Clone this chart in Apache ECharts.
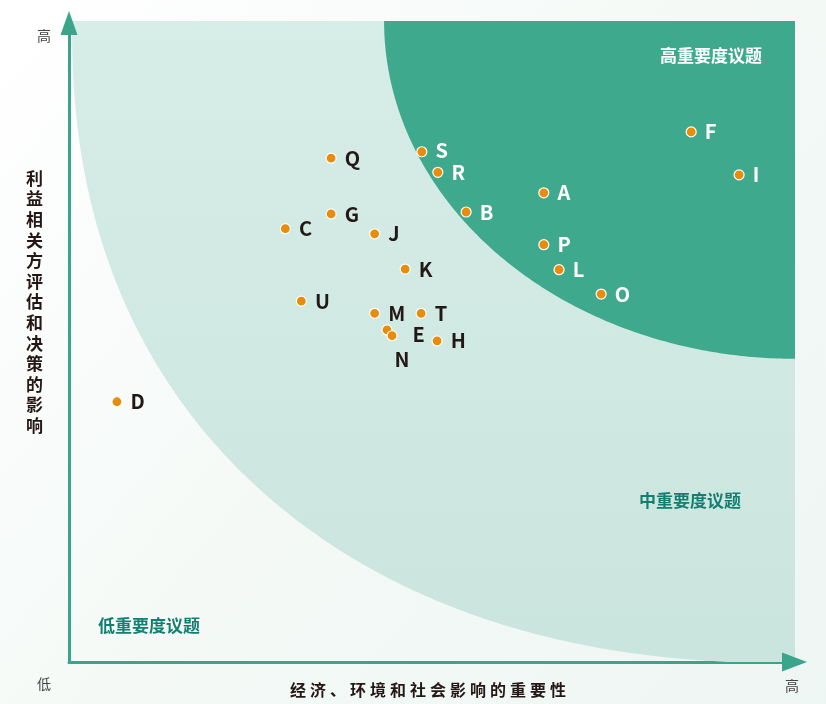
<!DOCTYPE html>
<html>
<head>
<meta charset="utf-8">
<script src="https://cdn.jsdelivr.net/npm/echarts@6/dist/echarts.min.js"></script>
<style>
html,body{margin:0;padding:0;background:#f6faf8;}
#chart{width:826px;height:704px;}
</style>
</head>
<body>
<div id="chart"></div>
<script>
// ---- data ----
const issueNames = ['A','B','C','D','E','F','G','H','I','J','K','L','M','N','O','P','Q','R','S','T','U'];
const impactX    = [65.4,54.7,29.8,6.6,43.8,85.7,36.1,50.7,92.3,42.1,46.3,67.5,42.1,44.5,73.3,65.4,36.1,50.8,48.6,48.5,32.0];
const influenceY = [73.2,70.2,67.6,40.6,51.8,82.7,69.9,50.1,76.0,66.8,61.3,61.2,54.4,50.9,57.4,65.1,78.6,76.4,79.6,54.4,56.3];
const zoneNames  = ['高重要度议题','中重要度议题','低重要度议题'];
const axisLow = '低', axisHigh = '高';
const xTitle = '经济、环境和社会影响的重要性';
const yTitle = '利益相关方评估和决策的影响';
// zone boundaries: quarter (super)ellipses centred at the top-right corner (data units)
const mediumZoneRadii = [99.6, 100.2];
const mediumZoneExponent = 2.25;
const highZoneRadii   = [56.6, 52.7];
const highZoneExponent = 2;

const FONT = '"Noto Sans CJK SC","Noto Sans",sans-serif';
const AXIS_COLOR = '#3aa58a';
const chart = echarts.init(document.getElementById('chart'), null, {renderer:'canvas'});

function inHigh(x, y){
  const a = (100-x)/highZoneRadii[0], b = (100-y)/highZoneRadii[1];
  return a*a + b*b < 1;
}
function zonePoints(api, r, n){
  const pts = [];
  for (let i = 0; i <= 180; i++){
    const t = i*Math.PI/360;
    const c = Math.pow(Math.cos(t), 2/n), s = Math.pow(Math.sin(t), 2/n);
    const x = 100 - r[0]*c;
    const y = Math.max(0, 100 - r[1]*s);
    pts.push(api.coord([x, y]));
  }
  pts.push(api.coord([100, 0]));
  pts.push(api.coord([100, 100]));
  return pts;
}

const labelTweaks = {
  E: {position:'right', distance:6, offset:[14,4]},
  N: {position:'bottom', distance:6, offset:[10,2]},
  S: {position:'right', distance:8, offset:[0,-1]}
};

const points = issueNames.map((n, i) => {
  const dark = inHigh(impactX[i], influenceY[i]);
  const tw = labelTweaks[n] || {};
  return {
    name: n,
    value: [impactX[i], influenceY[i]],
    label: Object.assign({color: dark ? '#ffffff' : '#231815'}, tw)
  };
});

const axisLineStyle = {show:true, lineStyle:{color:AXIS_COLOR, width:3}};

const option = {
  backgroundColor: {
    type:'linear', x:0, y:0, x2:1, y2:1,
    colorStops:[{offset:0,color:'#ffffff'},{offset:0.5,color:'#f4f9f6'},{offset:1,color:'#eef6f3'}]
  },
  animation:false,
  grid:{left:69, right:31, top:21, bottom:42},
  xAxis:{
    type:'value', min:0, max:100,
    splitLine:{show:false}, axisTick:{show:false}, axisLabel:{show:false},
    axisLine: axisLineStyle
  },
  yAxis:{
    type:'value', min:0, max:100,
    splitLine:{show:false}, axisTick:{show:false}, axisLabel:{show:false},
    axisLine: axisLineStyle
  },
  series:[
    {
      type:'custom', silent:true, z:1,
      data:[[0,0]],
      renderItem:function(params, api){
        const yTop = api.coord([0, 100]);
        const xEnd = api.coord([100, 0]);
        return {
          type:'group',
          children:[
            {type:'polygon', shape:{points:zonePoints(api, mediumZoneRadii, mediumZoneExponent)},
             style:{fill:{type:'linear',x:0,y:0,x2:0,y2:1,colorStops:[{offset:0,color:'#d7ede7'},{offset:1,color:'#cae5de'}]}}},
            {type:'polygon', shape:{points:zonePoints(api, highZoneRadii, highZoneExponent)},
             style:{fill:'#3fa98e'}},
            {type:'polygon', z2:10, shape:{points:[[yTop[0], yTop[1]-10],[yTop[0]+8.5, yTop[1]+14],[yTop[0]-8.5, yTop[1]+14]]},
             style:{fill:AXIS_COLOR}},
            {type:'polygon', z2:10, shape:{points:[[xEnd[0]+12, xEnd[1]],[xEnd[0]-13, xEnd[1]-9.5],[xEnd[0]-13, xEnd[1]+9.5]]},
             style:{fill:AXIS_COLOR}}
          ]
        };
      }
    },
    {
      type:'scatter', z:5,
      symbolSize:10,
      itemStyle:{color:'#e88c0c', borderColor:'#ffffff', borderWidth:1.2, opacity:1},
      label:{show:true, formatter:'{b}', position:'right', distance:8,
             fontFamily:FONT, fontWeight:'bold', fontSize:20},
      data: points
    }
  ],
  graphic:{
    elements:[
      {type:'text', z:100, left:660, top:47, style:{text:zoneNames[0], fill:'#ffffff', font:'bold 17px '+FONT}},
      {type:'text', z:100, left:639, top:492, style:{text:zoneNames[1], fill:'#137f70', font:'bold 17px '+FONT}},
      {type:'text', z:100, left:98, top:617, style:{text:zoneNames[2], fill:'#137f70', font:'bold 17px '+FONT}},
      {type:'text', z:100, left:37, top:29, style:{text:axisHigh, fill:'#444', font:'14px '+FONT}},
      {type:'text', z:100, left:37, top:677, style:{text:axisLow, fill:'#444', font:'14px '+FONT}},
      {type:'text', z:100, left:785, top:679, style:{text:axisHigh, fill:'#444', font:'14px '+FONT}},
      {type:'text', z:100, left:26, top:168, style:{text:yTitle.split('').join('\n'), fill:'#231815', font:'bold 17px '+FONT, lineHeight:20.6}},
      {type:'text', z:100, left:290, top:682, style:{text:xTitle.split('').join('\u2005'), fill:'#231815', font:'bold 16px '+FONT}}
    ]
  }
};
chart.setOption(option);
</script>
</body>
</html>
